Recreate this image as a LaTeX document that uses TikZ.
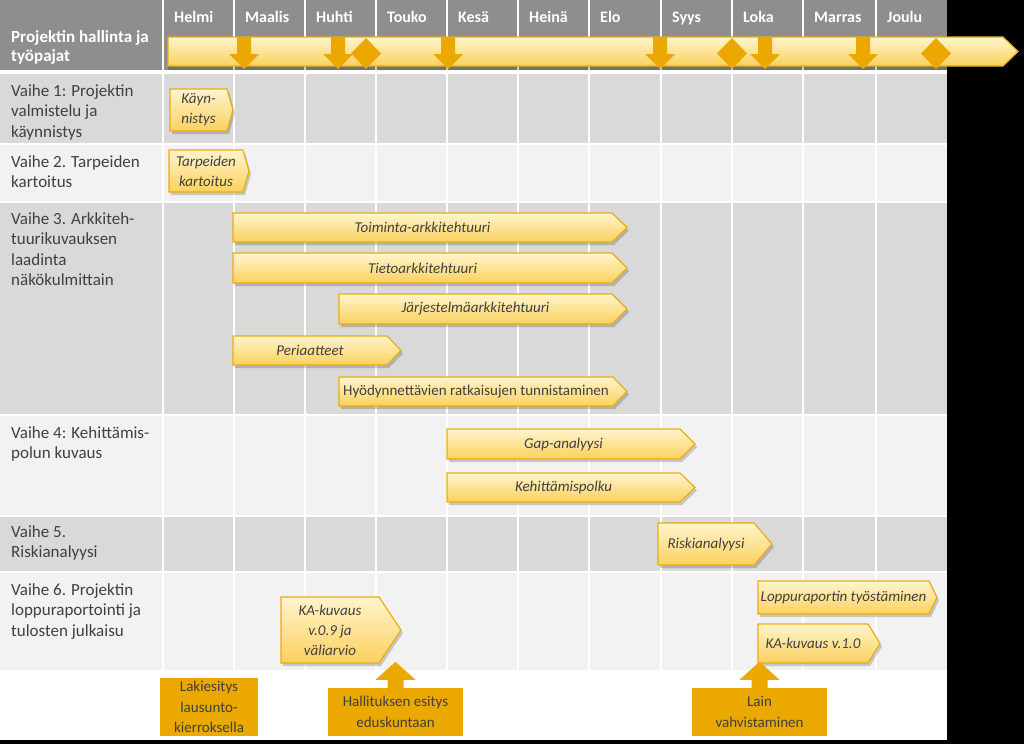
\documentclass[tikz,border=0pt]{standalone}
\usepackage{fontspec}
\setmainfont{Carlito}

\definecolor{hdrgray}{HTML}{8E8E8E}
\definecolor{rowdark}{HTML}{D9D9D9}
\definecolor{rowlight}{HTML}{F2F2F2}
\definecolor{gold}{HTML}{EAA800}
\definecolor{taskedge}{HTML}{E8AE10}
\definecolor{barlight}{HTML}{FFF4CC}
\definecolor{bardark}{HTML}{FBD15E}
\definecolor{txtgray}{HTML}{404040}

% task arrow: name, x1, y1, x2, y2, tip depth, text
\newcommand{\taskbar}[7]{%
  \fill[black,opacity=.18] (#2+2,#3+3) -- (#4-#6+2,#3+3) -- (#4+2,{(#3+#5)/2+3}) -- (#4-#6+2,#5+3) -- (#2+2,#5+3) -- cycle;
  \path[taskfill] (#2,#3) -- (#4-#6,#3) -- (#4,{(#3+#5)/2}) -- (#4-#6,#5) -- (#2,#5) -- cycle;
  \node[tasktext] (#1) at ({(#2+#4-#6)/2},{(#3+#5)/2}) {#7};}

\begin{document}
\begin{tikzpicture}[x=1pt,y=-1pt,
  phase/.style={anchor=north west,inner sep=0,align=left,text=txtgray,font=\fontsize{17}{20.5}\selectfont},
  month/.style={anchor=base west,inner sep=0,text=white,font=\fontsize{16}{19}\selectfont\bfseries},
  taskfill/.style={draw=taskedge,line width=1.2,top color=barlight,bottom color=bardark},
  tasktext/.style={inner sep=0,align=center,text=txtgray,font=\fontsize{15}{20}\selectfont\itshape},
  milebox/.style={fill=gold,inner sep=0,align=center,text=txtgray,font=\fontsize{15}{20.5}\selectfont}]
\useasboundingbox (0,0) rectangle (1024,744);
\fill[black] (0,0) rectangle (1024,744);
\fill[white] (0,0) rectangle (947,740);

% rows
\fill[hdrgray] (0,0) rectangle (947,70);
\fill[rowdark] (0,74) rectangle (947,144);
\fill[rowlight] (0,144) rectangle (947,202);
\fill[rowdark] (0,202) rectangle (947,415);
\fill[rowlight] (0,415) rectangle (947,516);
\fill[rowdark] (0,516) rectangle (947,572);
\fill[rowlight] (0,572) rectangle (947,670);
\foreach \y in {144,202,415,516,572}
  \draw[white,line width=2] (0,\y) -- (947,\y);
\foreach \x in {163,234,305,376,447,518,589,661,732,803,876}
  \draw[white,line width=2] (\x,0) -- (\x,670);

% header
\node[anchor=north west,inner sep=0,align=left,text=white,font=\fontsize{17}{19.5}\selectfont\bfseries] (title) at (11,30) {Projektin hallinta ja\\työpajat};
\foreach \x/\m [count=\i] in {163/Helmi,234/Maalis,305/Huhti,376/Touko,447/Kesä,518/Heinä,589/Elo,661/Syys,732/Loka,803/Marras,876/Joulu}
  \node[month] (m\i) at (\x+11,22) {\m};

% phases
\node[phase] (v1) at (11,84) {Vaihe 1: Projektin\\valmistelu ja\\käynnistys};
\node[phase] (v2) at (11,155) {Vaihe 2. Tarpeiden\\kartoitus};
\node[phase] (v3) at (11,212) {Vaihe 3. Arkkiteh-\\tuurikuvauksen\\laadinta\\näkökulmittain};
\node[phase] (v4) at (11,426) {Vaihe 4: Kehittämis-\\polun kuvaus};
\node[phase] (v5) at (11,525) {Vaihe 5.\\Riskianalyysi};
\node[phase] (v6) at (11,583) {Vaihe 6. Projektin\\loppuraportointi ja\\tulosten julkaisu};

% timeline
\fill[black,opacity=.2] (168,40) -- (1003,40) -- (1018,55) -- (1003,70) -- (168,70) -- cycle;
\path[taskfill] (168,37) -- (1003,37) -- (1018,51.5) -- (1003,66) -- (168,66) -- cycle;
\foreach \c in {244,338,448,660,765,863}
  \fill[gold] (\c-7,37) -- (\c+7,37) -- (\c+7,54) -- (\c+15,54) -- (\c,69) -- (\c-15,54) -- (\c-7,54) -- cycle;
\foreach \c in {366,732,936}
  \fill[gold] (\c,38) -- (\c+15,53.5) -- (\c,69) -- (\c-15,53.5) -- cycle;

% tasks
\taskbar{kay}{170}{89}{233}{131}{6}{Käyn-\\nistys}
\taskbar{tarp}{169}{150}{249}{192}{6}{Tarpeiden\\kartoitus}
\taskbar{toim}{233}{213}{627}{242}{15}{Toiminta-arkkitehtuuri}
\taskbar{tieto}{233}{253}{627}{283}{15}{Tietoarkkitehtuuri}
\taskbar{jarj}{339}{294}{627}{324}{15}{Järjestelmäarkkitehtuuri}
\taskbar{peri}{233}{336}{401}{365}{14}{Periaatteet}
\taskbar{hyod}{339}{377}{627}{406}{14}{\upshape Hyödynnettävien ratkaisujen tunnistaminen}
\taskbar{gap}{447}{429}{695}{459}{15}{Gap-analyysi}
\taskbar{kehi}{447}{473}{695}{502}{15}{Kehittämispolku}
\taskbar{risk}{658}{523}{772}{565}{18}{Riskianalyysi}
\taskbar{lopp}{758}{581}{937}{614}{8}{Loppuraportin työstäminen}
\taskbar{ka10}{758}{624}{880}{663}{12}{KA-kuvaus v.1.0}
\taskbar{ka09}{281}{597}{401}{663}{22}{KA-kuvaus\\v.0.9 ja\\väliarvio}

% milestones
\node[milebox,minimum width=98,minimum height=58] (laki) at (209,707) {Lakiesitys\\lausunto-\\kierroksella};
\node[milebox,minimum width=135,minimum height=48] (hall) at (395.5,712) {Hallituksen esitys\\eduskuntaan};
\node[milebox,minimum width=135,minimum height=48] (lain) at (759.5,712) {Lain\\vahvistaminen};
\foreach \b in {hall,lain}
  \fill[gold] (\b.north) ++(-8,0) -- ++(0,-8) -- ++(-12,0) -- ++(20,-18) -- ++(20,18) -- ++(-12,0) -- ++(0,8) -- cycle;
\end{tikzpicture}
\end{document}
